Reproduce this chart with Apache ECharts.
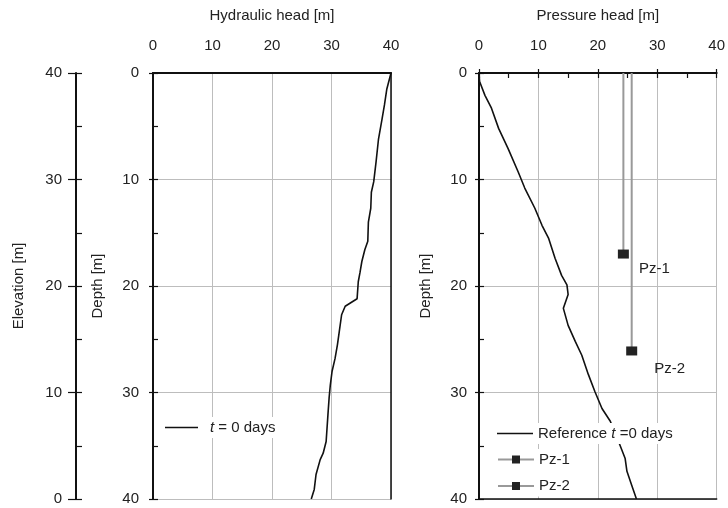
<!DOCTYPE html>
<html>
<head>
<meta charset="utf-8">
<script src="https://cdn.jsdelivr.net/npm/echarts@6/dist/echarts.min.js"></script>
<style>
  html, body { margin: 0; padding: 0; background: #fff; }
  #chart { width: 728px; height: 508px; }
</style>
</head>
<body>
<div id="chart"></div>
<script>
// Hydraulic head profile at t = 0 days (depth [m] -> head [m])
const hydDepth = [0, 1.5, 3.0, 4.3, 6.2, 8.3, 10.2, 11.2, 12.7, 14.0, 15.8, 16.6, 17.7, 18.7, 19.6, 21.2,
                  21.9, 22.7, 24.3, 25.5, 26.8, 28.0, 29.3, 30.5, 32.1, 34.6, 35.7, 36.3, 37.7, 39.1, 40];
const hydHead  = [40.0, 39.3, 38.9, 38.5, 37.9, 37.5, 37.1, 36.7, 36.6, 36.2, 36.1, 35.6, 35.1, 34.8, 34.5, 34.3,
                  32.3, 31.7, 31.3, 31.0, 30.6, 30.1, 29.8, 29.6, 29.4, 29.1, 28.6, 28.1, 27.4, 27.1, 26.6];

// Reference pressure head profile at t = 0 days
const presDepth = [0, 0.8, 2.1, 3.3, 5.2, 7.1, 9.3, 10.8, 12.7, 14.3, 15.5, 17.4, 19.0, 19.9, 20.8, 22.1,
                   23.7, 25.2, 26.5, 28.3, 29.9, 31.5, 32.7, 33.8, 34.9, 36.2, 37.4, 38.7, 40];
const presHead  = [0, 0.1, 1.0, 2.1, 3.3, 4.9, 6.6, 7.7, 9.4, 10.6, 11.7, 12.8, 13.9, 14.8, 15.0, 14.2,
                   15.0, 16.2, 17.3, 18.4, 19.5, 20.7, 22.1, 22.9, 23.7, 24.6, 24.9, 25.7, 26.5];

// Piezometer readings
const pzNames = ['Pz-1', 'Pz-2'];
const pzHead  = [24.3, 25.7];
const pzDepth = [17.0, 26.1];

// Axis ranges
const axisMin = 0, axisMax = 40, majorStep = 10, minorStep = 5;

const FONT = "'Liberation Sans', Arial, sans-serif";
const TXT = '#222';
const FS = 15;
// plain line sample for legend entries without markers
const LINE_ICON = 'path://M0,0 h36 v1.6 h-36 z';

const zip = (xs, ys) => xs.map((x, i) => [x, ys[i]]);
const txt = { fontFamily: FONT, fontSize: FS, color: TXT };
const none = { show: false };
const italicRich = { i: { fontFamily: FONT, fontSize: FS, fontStyle: 'italic', color: TXT } };

function mainAxis(o) {
  return Object.assign({
    type: 'value', min: axisMin, max: axisMax, interval: majorStep,
    axisLine: { show: true, lineStyle: { color: '#111', width: 2 } },
    axisTick: { show: true, length: 4, inside: false, lineStyle: { color: '#111', width: 1.2 } },
    axisLabel: Object.assign({ show: true }, txt),
    splitLine: { show: true, lineStyle: { color: '#bdbdbd', width: 1 } },
    nameLocation: 'middle',
    nameTextStyle: txt
  }, o);
}
function minorAxis(o) {
  return Object.assign({
    type: 'value', min: axisMin, max: axisMax, interval: minorStep,
    axisLine: none,
    axisTick: { show: true, inside: true, length: 5, lineStyle: { color: '#111', width: 1.2 } },
    axisLabel: none, splitLine: none
  }, o);
}
function borderAxis(o) {
  return Object.assign({
    type: 'value', min: axisMin, max: axisMax, interval: majorStep,
    axisLine: { show: true, lineStyle: { color: '#111', width: 1.5 } },
    axisTick: none, axisLabel: none, splitLine: none
  }, o);
}

const option = {
  animation: false,
  backgroundColor: '#fff',
  grid: [
    { left: 153, top: 73, width: 238, height: 426 },
    { left: 479, top: 73, width: 238, height: 426 }
  ],
  xAxis: [
    mainAxis({ gridIndex: 0, position: 'top', name: 'Hydraulic head [m]', nameGap: 50,
               axisTick: none, axisLabel: Object.assign({ margin: 20 }, txt) }),
    borderAxis({ gridIndex: 0, position: 'bottom' }),
    mainAxis({ gridIndex: 1, position: 'top', name: 'Pressure head [m]', nameGap: 50,
               axisLabel: Object.assign({ margin: 20 }, txt) }),
    minorAxis({ gridIndex: 1, position: 'top' }),
    borderAxis({ gridIndex: 1, position: 'bottom' })
  ],
  yAxis: [
    mainAxis({ gridIndex: 0, position: 'left', inverse: true, name: 'Depth [m]', nameGap: 48,
               axisLabel: Object.assign({ margin: 14 }, txt) }),
    minorAxis({ gridIndex: 0, position: 'left', inverse: true }),
    borderAxis({ gridIndex: 0, position: 'right' }),
    // Elevation scale drawn to the left of the depth axis
    mainAxis({ gridIndex: 0, position: 'left', offset: 77, name: 'Elevation [m]', nameGap: 50,
               axisTick: { show: true, length: 8, lineStyle: { color: '#111', width: 1.2 } },
               axisLabel: Object.assign({ margin: 14 }, txt), splitLine: none }),
    minorAxis({ gridIndex: 0, position: 'left', offset: 77,
                axisTick: { show: true, inside: true, length: 6, lineStyle: { color: '#111', width: 1.2 } } }),
    mainAxis({ gridIndex: 1, position: 'left', inverse: true, name: 'Depth [m]', nameGap: 46,
               axisLabel: Object.assign({ margin: 12 }, txt) }),
    minorAxis({ gridIndex: 1, position: 'left', inverse: true }),
    borderAxis({ gridIndex: 1, position: 'right' })
  ],
  legend: [
    {
      data: [{ name: 't = 0 days', icon: LINE_ICON }], left: 161, top: 417, orient: 'vertical',
      itemWidth: 33, itemHeight: 10, padding: [3, 4], backgroundColor: '#fff',
      selectedMode: false,
      formatter: () => '{i|t} = 0 days',
      textStyle: Object.assign({ rich: italicRich, padding: [0, 0, 0, 7] }, txt)
    },
    {
      data: [{ name: 'Reference t =0 days', icon: LINE_ICON }], left: 493, top: 423, orient: 'vertical',
      itemWidth: 36, itemHeight: 10, padding: [3, 4], backgroundColor: '#fff',
      selectedMode: false,
      formatter: () => 'Reference {i|t} =0 days',
      textStyle: Object.assign({ rich: italicRich }, txt)
    },
    {
      data: pzNames, left: 493, top: 449, orient: 'vertical',
      itemWidth: 36, itemHeight: 10, itemGap: 11.5, padding: [3, 4], backgroundColor: '#fff',
      selectedMode: false,
      textStyle: Object.assign({ width: 70 }, txt)
    }
  ],
  series: [
    {
      name: 't = 0 days', type: 'line', xAxisIndex: 0, yAxisIndex: 0,
      data: zip(hydHead, hydDepth), symbol: 'none',
      lineStyle: { color: '#111', width: 1.6 }, itemStyle: { color: '#111' }
    },
    {
      name: 'Reference t =0 days', type: 'line', xAxisIndex: 2, yAxisIndex: 5,
      data: zip(presHead, presDepth), symbol: 'none',
      lineStyle: { color: '#111', width: 1.6 }, itemStyle: { color: '#111' }
    }
  ].concat(pzNames.map((name, i) => ({
    name: name, type: 'line', xAxisIndex: 2, yAxisIndex: 5,
    symbol: 'rect', symbolSize: [11, 9],
    lineStyle: { color: '#999', width: 2 },
    itemStyle: { color: '#222' },
    label: { show: false },
    data: [
      { value: [pzHead[i], 0], symbol: 'none' },
      { value: [pzHead[i], pzDepth[i]],
        label: { show: true, position: 'right', formatter: '{a}',
                 offset: i === 0 ? [5, 15] : [12, 18],
                 fontFamily: FONT, fontSize: FS, color: TXT } }
    ]
  })))
};

const chart = echarts.init(document.getElementById('chart'), null, { renderer: 'canvas' });
chart.setOption(option);
</script>
</body>
</html>
